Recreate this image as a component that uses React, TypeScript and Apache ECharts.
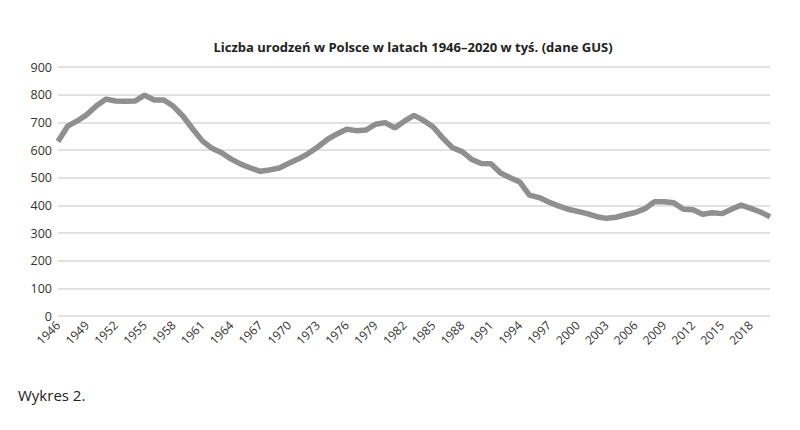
import React, { useEffect, useRef } from "react";
import * as echarts from "echarts";

const years: string[] = [];
for (let y = 1946; y <= 2020; y++) years.push(String(y));

const births: number[] = [
  631, 686, 705, 728, 760, 784, 777, 776, 777, 798,
  781, 781, 758, 722, 676, 633, 606, 590, 567, 549,
  535, 523, 528, 535, 552, 568, 587, 611, 638, 658,
  675, 670, 672, 693, 699, 680, 704, 725, 707, 683,
  643, 608, 594, 566, 551, 550, 517, 500, 484, 437,
  428, 412, 398, 386, 378, 370, 359, 353, 357, 366,
  374, 388, 413, 413, 409, 386, 384, 368, 373, 370,
  386, 401, 389, 376, 359,
];

const yTicks = { min: 0, max: 900, interval: 100 };

export default function App() {
  const ref = useRef<HTMLDivElement>(null);
  useEffect(() => {
    if (!ref.current) return;
    const chart = echarts.init(ref.current, undefined, { renderer: "svg" });
    chart.setOption({
      animation: false,
      backgroundColor: "#ffffff",
      title: {
        text: "Liczba urodzeń w Polsce w latach 1946–2020 w tyś. (dane GUS)",
        left: 408,
        textAlign: "center",
        top: 35,
        textStyle: {
          fontFamily: "Open Sans",
          fontWeight: "bold",
          fontSize: 13,
          color: "#222",
        },
      },
      graphic: [
        {
          type: "text",
          left: 18,
          top: 387,
          style: {
            text: "Wykres 2.",
            fontFamily: "Open Sans",
            fontSize: 15,
            fill: "#222",
          },
        },
      ],
      grid: { left: 58, right: 30, top: 67, bottom: 114, containLabel: false },
      xAxis: {
        type: "category",
        data: years,
        boundaryGap: false,
        axisLine: { show: false },
        axisTick: { show: false },
        axisLabel: {
          interval: 2,
          rotate: 45,
          margin: 7,
          fontFamily: "Open Sans",
          fontSize: 12,
          color: "#333",
        },
        splitLine: { show: false },
      },
      yAxis: {
        type: "value",
        min: yTicks.min,
        max: yTicks.max,
        interval: yTicks.interval,
        axisLine: { show: false },
        axisTick: { show: false },
        axisLabel: {
          margin: 6,
          fontFamily: "Open Sans",
          fontSize: 12.5,
          color: "#333",
        },
        splitLine: { lineStyle: { color: "#d9d9d9", width: 1.5 } },
      },
      series: [
        {
          type: "line",
          data: births,
          symbol: "none",
          lineStyle: { color: "#8f8f8f", width: 5.5 },
        },
      ],
    });
    return () => chart.dispose();
  }, []);
  return (
    <div
      ref={ref}
      style={{ position: "absolute", left: 0, top: 0, width: 800, height: 430 }}
    />
  );
}
